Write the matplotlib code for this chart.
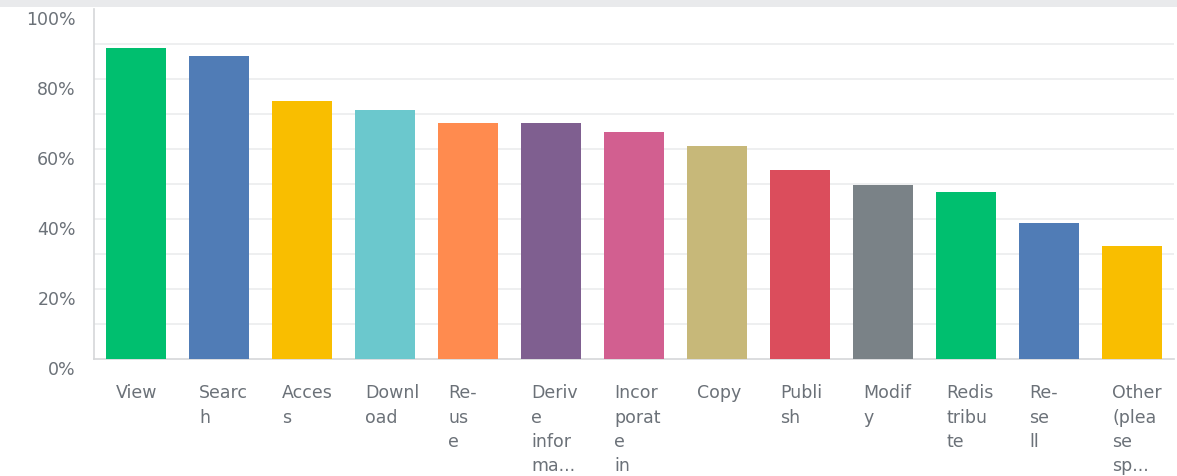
import matplotlib
matplotlib.use("Agg")
import matplotlib.pyplot as plt
import matplotlib.transforms as mtransforms
from matplotlib.patches import Rectangle
import numpy as np

# ── Data ────────────────────────────────────────────────────────────────
CATEGORIES = [
    "View\n", "Searc\nh", "Acces\ns", "Downl\noad", "Re-\nus\ne",
    "Deriv\ne\ninfor\nma...", "Incor\nporat\ne\nin", "Copy", "Publi\nsh",
    "Modif\ny", "Redis\ntribu\nte", "Re-\nse\nll", "Other\n(plea\nse\nsp...",
]
VALUES = [88.8, 86.7, 73.8, 71.2, 67.4, 67.4, 64.9, 60.9, 54.1, 49.8, 47.6, 38.9, 32.3]
COLORS = [
    "#00BF6F", "#507CB6", "#F9BE00", "#6BC8CD", "#FF8B4F", "#7F5F90",
    "#D25F90", "#C7B879", "#DB4D5C", "#7A8287", "#00BF6F", "#507CB6", "#F9BE00",
]
YTICKS = [0, 20, 40, 60, 80, 100]

TEXT_COLOR = "#6B7178"

# ── Figure ──────────────────────────────────────────────────────────────
fig = plt.figure(figsize=(11.77, 4.77), dpi=100)
fig.patch.set_facecolor("white")

# grey band at the very top of the screenshot
fig.patches.append(Rectangle((0, 1 - 8 / 477), 1, 8 / 477, transform=fig.transFigure,
                             facecolor="#E9EAEC", edgecolor="none", zorder=0))

ax = fig.add_axes([94 / 1177, 117 / 477, 1080 / 1177, 350 / 477])

x = np.arange(len(VALUES))
ax.bar(x, VALUES, width=0.723, color=COLORS, zorder=3)

ax.set_xlim(-0.506, len(VALUES) - 1 + 0.506)
ax.set_ylim(0, 100)

# light grid every 10% (drawn by hand-free axhline from tick list)
for g in np.arange(10, 100, 10):
    ax.axhline(g, color="#EDEEEF", linewidth=1.3, zorder=0)
ax.set_yticks(YTICKS)
ax.set_yticklabels([f"{t}%" for t in YTICKS])
ax.tick_params(axis="y", length=0, pad=13, labelsize=12.5, labelcolor=TEXT_COLOR)
offset = mtransforms.ScaledTranslation(0, -8 / 100, fig.dpi_scale_trans)
for lbl in ax.get_yticklabels():
    lbl.set_transform(lbl.get_transform() + offset)

ax.set_xticks([])
for side in ("top", "right"):
    ax.spines[side].set_visible(False)
ax.spines["left"].set_color("#D5D7D9")
ax.spines["bottom"].set_color("#D5D7D9")
ax.spines["left"].set_linewidth(1.2)
ax.spines["bottom"].set_linewidth(1.2)

# category labels, wrapped and left aligned under each bar
lab_trans = mtransforms.blended_transform_factory(ax.transData, ax.transAxes)
for xi, name in zip(x, CATEGORIES):
    ax.text(xi - 0.24, -0.07, name.rstrip("\n"), transform=lab_trans,
            ha="left", va="top", fontsize=12.5, color=TEXT_COLOR,
            linespacing=1.45, clip_on=False)

fig.savefig("out.png", dpi=100)
